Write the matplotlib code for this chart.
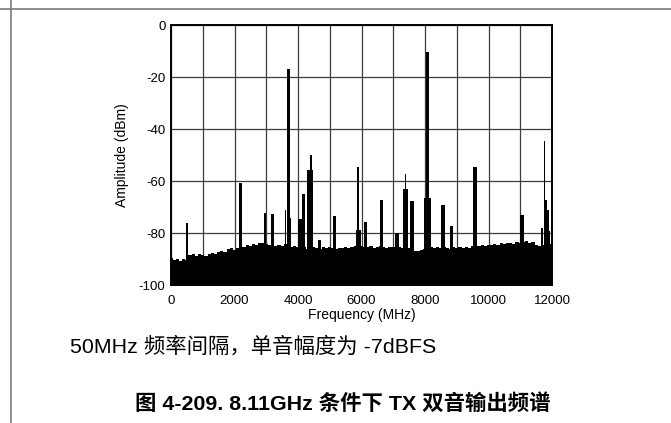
import matplotlib
matplotlib.use("Agg")
import matplotlib.pyplot as plt
from matplotlib.lines import Line2D
from matplotlib.ticker import MultipleLocator

# noise floor, one value every 100 MHz from 0 to 12000 MHz (dBm)
floor_freq = list(range(0, 12001, 100))
floor_dbm = [
    -89.5, -90.5, -90.0, -90.8, -89.8, -90.2, -88.6, -88.2, -88.8, -88.0, -88.4,
    -88.9, -88.1, -87.6, -87.9, -87.2, -86.8, -87.3, -86.2, -85.9, -86.4,
    -85.8, -85.6, -85.2, -84.6, -84.9, -84.3, -84.7, -84.0, -83.8, -84.2,
    -84.5, -84.0, -84.8, -84.4, -85.0, -84.2, -84.6, -85.2, -84.8, -85.5,
    -85.8, -85.3, -86.0, -85.6, -85.2, -85.9, -86.1, -85.4, -85.7, -85.3,
    -85.8, -86.0, -85.6, -85.9, -85.3, -85.7, -85.5, -85.1, -84.8, -85.0,
    -85.4, -85.2, -85.0, -85.6, -85.3, -84.9, -85.4, -85.7, -85.2, -85.5,
    -85.9, -85.4, -85.8, -86.2, -85.6, -86.4, -86.8, -87.0, -86.5, -86.0,
    -85.7, -85.4, -85.9, -85.5, -85.8, -85.2, -85.6, -86.0, -85.4, -85.7,
    -85.5, -85.8, -85.3, -85.6, -85.0, -85.4, -84.9, -84.6, -84.8, -84.4,
    -84.6, -84.2, -84.5, -83.9, -84.3, -84.0, -83.7, -84.1, -83.6, -84.0,
    -83.5, -83.2, -83.8, -83.4, -84.6, -85.0, -84.4, -84.0, -83.8, -84.2,
]

# spurs / tones: centre frequency (MHz), width (MHz), peak level (dBm)
spur_freq = [490, 2190, 2955, 3200, 3605, 3750, 3705, 4060, 4180, 4390,
             4405, 4670, 5150, 5895, 5895, 6130, 6630, 7120, 7390, 7382,
             7590, 8070, 8080, 8575, 8830, 9570, 11065, 11690, 11790, 11860,
             11920, 11772]
spur_width = [60, 115, 50, 115, 50, 80, 110, 125, 105, 190,
              50, 95, 125, 150, 65, 95, 100, 100, 160, 55,
              115, 210, 110, 130, 75, 120, 125, 70, 110, 60,
              50, 40]
spur_dbm = [-76.3, -60.6, -72.1, -72.5, -71.0, -74.0, -16.7, -74.5, -64.8, -55.6,
            -49.8, -82.5, -73.3, -78.7, -54.4, -75.8, -67.1, -79.8, -62.9, -57.1,
            -67.5, -66.3, -10.1, -69.3, -77.1, -54.4, -73.2, -78.0, -67.1, -71.0,
            -79.0, -44.4]

y_ticks = [0, -20, -40, -60, -80, -100]
x_ticks = [0, 2000, 4000, 6000, 8000, 10000, 12000]

caption = "50MHz 频率间隔，单音幅度为 -7dBFS"
title = "图 4-209. 8.11GHz 条件下 TX 双音输出频谱"

plt.rcParams['font.family'] = ['Liberation Sans', 'Noto Sans CJK SC', 'DejaVu Sans']
plt.rcParams['axes.unicode_minus'] = False

fig = plt.figure(figsize=(6.71, 4.23), dpi=100)
ax = fig.add_axes([171 / 671, 1 - 285 / 423, 381 / 671, 259.5 / 423])

ax.fill_between(floor_freq, -100, floor_dbm, step='mid', color='black', lw=0, zorder=2)
heights = [d + 100 for d in spur_dbm]
ax.bar(spur_freq, heights, width=spur_width, bottom=-100, color='black', lw=0, zorder=3)

ax.set_xlim(0, 12000)
ax.set_ylim(-100, 0)
ax.set_xticks(x_ticks)
ax.set_yticks(y_ticks)
ax.xaxis.set_minor_locator(MultipleLocator(1000))
ax.grid(True, which='both', color='#3c3c3c', lw=0.9, zorder=1)
ax.set_axisbelow(True)
ax.tick_params(which='both', length=0, labelsize=9.5)
ax.tick_params(axis='x', pad=7.5)
ax.tick_params(axis='y', pad=4)
for sp in ax.spines.values():
    sp.set_linewidth(1.4)
    sp.set_zorder(4)

ax.set_xlabel("Frequency (MHz)", fontsize=10, labelpad=0.5)
ax.set_ylabel("Amplitude (dBm)", fontsize=10, labelpad=7)

# page frame lines
fig.add_artist(Line2D([0, 1], [1 - 9.5 / 423] * 2, transform=fig.transFigure,
                      color='#7a7a7a', lw=1.2))
fig.add_artist(Line2D([10.5 / 671] * 2, [0, 1], transform=fig.transFigure,
                      color='#7a7a7a', lw=1.2))

fig.text(70 / 671, 1 - 346 / 423, caption, fontsize=15.4, va='center', ha='left')
fig.text(342.5 / 671, 1 - 403 / 423, title, fontsize=15.4, fontweight='bold',
         va='center', ha='center',
         family=['Liberation Sans', 'Noto Sans CJK SC'])

fig.savefig("out.png", dpi=100)
